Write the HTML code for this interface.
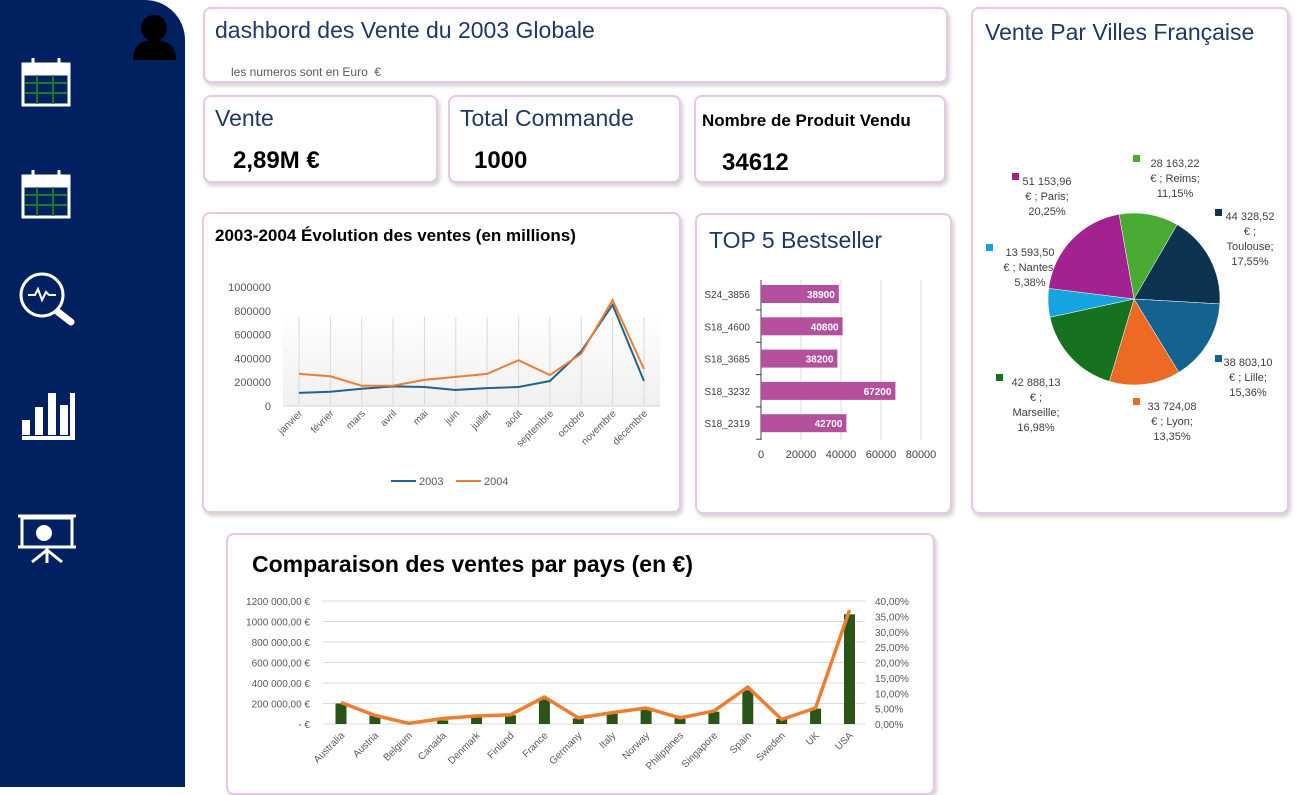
<!DOCTYPE html>
<html><head><meta charset="utf-8">
<style>
body{margin:0;width:1312px;height:787px;overflow:hidden;background:#fff;font-family:"Liberation Sans",sans-serif;position:relative}
.card{position:absolute;background:#fff;border:2px solid #e9c6e6;border-radius:8px;box-shadow:2px 3px 4px rgba(0,0,0,0.18);box-sizing:border-box}
.t{position:absolute;white-space:nowrap}
svg text{font-family:"Liberation Sans",sans-serif}
</style></head><body>
<div style="position:absolute;left:0;top:0;width:185px;height:787px;background:#00205f;border-top-right-radius:40px"></div>
<svg style="position:absolute;left:0;top:0" width="190" height="580">
 <g><circle cx="154" cy="28" r="13" fill="#000"/><path d="M133 60 Q133 40 154 40 Q176 40 176 60 Z" fill="#000"/></g>
 <g fill="none" stroke="#fff" stroke-width="3">
  <rect x="23" y="64" width="46" height="41"/><rect x="23" y="64" width="46" height="10" fill="#fff"/>
  <path d="M33 58V66M59 58V66" stroke-width="3"/>
  <path d="M25 83H67M25 93H67M37 75V104M53 75V104" stroke="#1d7a2a" stroke-width="2"/></g>
 <g fill="none" stroke="#fff" stroke-width="3">
  <rect x="23" y="176" width="46" height="41"/><rect x="23" y="176" width="46" height="10" fill="#fff"/>
  <path d="M33 170V178M59 170V178" stroke-width="3"/>
  <path d="M25 195H67M25 205H67M37 187V216M53 187V216" stroke="#1d7a2a" stroke-width="2"/></g>
 <g fill="none" stroke="#fff" stroke-width="3">
  <circle cx="42" cy="295" r="21"/><path d="M58 312L71 322" stroke-width="7" stroke-linecap="round"/>
  <path d="M28 295h7l3-6 4 11 4-8 3 3h7" stroke-width="2"/></g>
 <g fill="#fff">
  <rect x="22" y="420" width="8" height="15"/><rect x="35" y="407" width="8" height="28"/><rect x="48" y="393" width="8" height="42"/><rect x="60" y="405" width="8" height="30"/>
  <rect x="70" y="393" width="5" height="47"/><rect x="22" y="436" width="53" height="4"/></g>
 <g stroke="#fff" stroke-width="3" fill="none">
  <path d="M18 516H76"/><rect x="22" y="518" width="50" height="29"/><path d="M18 547H76M47 547V563M47 550L32 562M47 550L62 562"/>
  <circle cx="44" cy="533" r="8" fill="#fff" stroke="none"/></g>
</svg>

<div class="card" style="left:203px;top:7px;width:745px;height:76px">
 <div class="t" style="left:10px;top:8px;font-size:23px;color:#1f3864">dashbord des Vente du 2003 Globale</div>
 <div class="t" style="left:26px;top:56px;font-size:12px;color:#595959">les numeros sont en Euro &nbsp;€</div>
</div>
<div class="card" style="left:203px;top:95px;width:235px;height:88px">
 <div class="t" style="left:10px;top:8px;font-size:23px;color:#1f3864">Vente</div>
 <div class="t" style="left:28px;top:50px;font-size:24px;font-weight:bold">2,89M €</div>
</div>
<div class="card" style="left:448px;top:95px;width:233px;height:88px">
 <div class="t" style="left:10px;top:8px;font-size:23px;color:#1f3864">Total Commande</div>
 <div class="t" style="left:24px;top:50px;font-size:24px;font-weight:bold">1000</div>
</div>
<div class="card" style="left:694px;top:95px;width:252px;height:88px">
 <div class="t" style="left:6px;top:14px;font-size:17px;font-weight:bold">Nombre de Produit Vendu</div>
 <div class="t" style="left:26px;top:52px;font-size:24px;font-weight:bold">34612</div>
</div>
<div class="card" style="left:202px;top:212px;width:479px;height:301px">
 <div class="t" style="left:11px;top:12px;font-size:17px;font-weight:bold">2003-2004 Évolution des ventes (en millions)</div>
</div>
<div class="card" style="left:695px;top:213px;width:257px;height:301px">
 <div class="t" style="left:12px;top:12px;font-size:23px;color:#1f3864">TOP 5 Bestseller</div>
</div>
<div class="card" style="left:971px;top:7px;width:318px;height:507px">
 <div class="t" style="left:12px;top:10px;font-size:23px;color:#1f3864">Vente Par Villes Française</div>
</div>
<div class="card" style="left:226px;top:533px;width:709px;height:262px">
 <div class="t" style="left:24px;top:16px;font-size:23px;font-weight:bold">Comparaison des ventes par pays (en €)</div>
</div>

<svg id="charts" style="position:absolute;left:0;top:0" width="1312" height="787">
 <defs><linearGradient id="pg" x1="0" y1="0" x2="0" y2="1"><stop offset="0" stop-color="#fff"/><stop offset="1" stop-color="#f0f0f0"/></linearGradient></defs>
</svg>
<script>
const months=['janvier','février','mars','avril','mai','juin','juillet','août','septembre','octobre','novembre','décembre'];
const sales2003=[110000,120000,145000,165000,160000,135000,150000,160000,210000,460000,850000,210000];
const sales2004=[270000,250000,170000,170000,220000,245000,270000,385000,260000,440000,890000,310000];
const lineTicks=[0,200000,400000,600000,800000,1000000];
const products=['S24_3856','S18_4600','S18_3685','S18_3232','S18_2319'];
const productQty=[38900,40800,38200,67200,42700];
const barTicks=[0,20000,40000,60000,80000];
const cities=['Reims','Toulouse','Lille','Lyon','Marseille','Nantes','Paris'];
const cityValues=[28163.22,44328.52,38803.10,33724.08,42888.13,13593.50,51153.96];
const cityLabels=['28 163,22|€ ; Reims;|11,15%','44 328,52|€ ;|Toulouse;|17,55%','38 803,10|€ ; Lille;|15,36%','33 724,08|€ ; Lyon;|13,35%','42 888,13|€ ;|Marseille;|16,98%','13 593,50|€ ; Nantes;|5,38%','51 153,96|€ ; Paris;|20,25%'];
const countries=['Australia','Austria','Belgium','Canada','Denmark','Finland','France','Germany','Italy','Norway','Philippines','Singapore','Spain','Sweden','UK','USA'];
const countrySales=[200000,80000,5000,35000,70000,85000,240000,55000,100000,145000,60000,120000,330000,50000,150000,1070000];
const countryShare=[7.0,2.8,0.2,1.8,2.6,3.0,8.8,2.0,3.7,5.2,2.0,4.2,12.0,1.5,5.2,37.0];
const leftTicks=[0,200000,400000,600000,800000,1000000,1200000];
const rightTicks=[0,5,10,15,20,25,30,35,40];

const svg=document.getElementById('charts');
const NS='http://www.w3.org/2000/svg';
function mk(tag,attrs,parent){const e=document.createElementNS(NS,tag);for(const k in attrs)e.setAttribute(k,attrs[k]);(parent||svg).appendChild(e);return e;}
function txt(x,y,s,attrs,parent){const e=mk('text',Object.assign({x:x,y:y},attrs),parent);e.textContent=s;return e;}
const fr=n=>n.toFixed(2).replace('.',',');
const sp=n=>{const s=String(n);return s.length>6?s.slice(0,-3)+' '+s.slice(-3):s.replace(/\B(?=(\d{3})+(?!\d))/g,' ');};

// ---- line chart
const lx=i=>299+i*31.36, ly=v=>406-v*(119/1000000);
mk('rect',{x:283,y:ly(800000),width:377,height:406-ly(800000),fill:'url(#pg)'});
months.forEach((m,i)=>{
 const g=mk('line',{x1:lx(i),x2:lx(i),y1:ly(1000000)+30,y2:406,stroke:'#d9d9d9','stroke-width':1});
 
 const t=txt(lx(i)+4,414,m,{'font-size':10,fill:'#595959','text-anchor':'end',transform:`rotate(-45 ${lx(i)+4} 414)`});
 
});
mk('line',{x1:283,x2:660,y1:406,y2:406,stroke:'#d9d9d9'});
lineTicks.forEach(v=>{const t=txt(271,ly(v)+4,String(v),{'font-size':11,fill:'#595959','text-anchor':'end'});
 });
[[sales2003,'#1f6391','series-2003'],[sales2004,'#ed7d31','series-2004']].forEach(([d,c,n])=>{
 const p=mk('polyline',{points:d.map((v,i)=>lx(i)+','+ly(v)).join(' '),fill:'none',stroke:c,'stroke-width':2});
 
});
[['2003','#1f6391',391],['2004','#ed7d31',456]].forEach(([s,c,x])=>{
 const g=mk('g',{});
 mk('line',{x1:x,x2:x+25,y1:481,y2:481,stroke:c,'stroke-width':2},g);
 txt(x+28,485,s,{'font-size':11,fill:'#595959'},g);
});

// ---- top5 bar
const bx=v=>761+v*0.002, by=i=>294+i*32.3;
barTicks.forEach(v=>{mk('line',{x1:bx(v),x2:bx(v),y1:280,y2:440,stroke:'#d9d9d9'});
 const t=txt(bx(v),458,String(v),{'font-size':11,fill:'#404040','text-anchor':'middle'});
 });
mk('line',{x1:761,x2:761,y1:280,y2:440,stroke:'#404040'});
products.forEach((p,i)=>{
 const r=mk('rect',{x:761,y:by(i)-9,width:bx(productQty[i])-761,height:18,fill:'#b5509f'});
 
 const l=txt(bx(productQty[i])-4,by(i)+4,String(productQty[i]),{'font-size':10,'font-weight':'bold',fill:'#fff','text-anchor':'end'});
 
 const t=txt(750,by(i)+4,p,{'font-size':10,fill:'#404040','text-anchor':'end'});
 
 mk('line',{x1:756,x2:761,y1:by(i)+16,y2:by(i)+16,stroke:'#404040'});
});

// ---- pie
const cols=['#4aab34','#0c3450','#136290','#ec6a24','#16721f','#16a4e0','#a2238f'];
const cx=1134,cy=299,R=86;
const tot=cityValues.reduce((a,b)=>a+b,0);
let ang=-10*Math.PI/180;
const lpos=[[1175,167],[1250,220],[1248,366],[1172,410],[1036,386],[1030,256],[1047,185]];
const lcol=[[1137,163],[1219,217],[1219,363],[1137,406],[1000,382],[990,252],[1016,181]];
cityValues.forEach((v,i)=>{
 const a2=ang+v/tot*2*Math.PI;
 const p=(a)=>[cx+R*Math.sin(a),cy-R*Math.cos(a)];
 const [x1,y1]=p(ang),[x2,y2]=p(a2);
 const s=mk('path',{d:`M${cx},${cy}L${x1},${y1}A${R},${R} 0 ${a2-ang>Math.PI?1:0} 1 ${x2},${y2}Z`,fill:cols[i],stroke:'#fff','stroke-width':0.5});
 
 ang=a2;
 const g=mk('g',{});
 mk('rect',{x:lcol[i][0]-4,y:lcol[i][1]-8,width:7,height:7,fill:cols[i]},g);
 cityLabels[i].split('|').forEach((ln,k)=>{txt(lpos[i][0],lpos[i][1]+k*15,ln,{'font-size':11,fill:'#404040','text-anchor':'middle'},g);});
});

// ---- country combo chart
const cxp=i=>341+i*33.9, cyl=v=>724-v*(123/1200000), cyr=p=>724-p*(123/40);
leftTicks.forEach(v=>{mk('line',{x1:323,x2:865,y1:cyl(v),y2:cyl(v),stroke:'#d9d9d9'});
 const t=txt(310,cyl(v)+4,v===0?'-   €':sp(v)+',00 €',{'font-size':10,fill:'#595959','text-anchor':'end'});
 });
rightTicks.forEach(p=>{const t=txt(875,cyr(p)+4,fr(p)+'%',{'font-size':10,fill:'#595959'});
 });
countries.forEach((c,i)=>{
 const r=mk('rect',{x:cxp(i)-5.5,y:cyl(countrySales[i]),width:11,height:724-cyl(countrySales[i]),fill:'#2a5418'});
 
 const t=txt(cxp(i)+4,736,c,{'font-size':10,fill:'#595959','text-anchor':'end',transform:`rotate(-45 ${cxp(i)+4} 736)`});
 
});
const pl=mk('polyline',{points:countryShare.map((p,i)=>cxp(i)+','+cyr(p)).join(' '),fill:'none',stroke:'#ed7d31','stroke-width':3.5,'stroke-linejoin':'round'});

</script>
</body></html>
